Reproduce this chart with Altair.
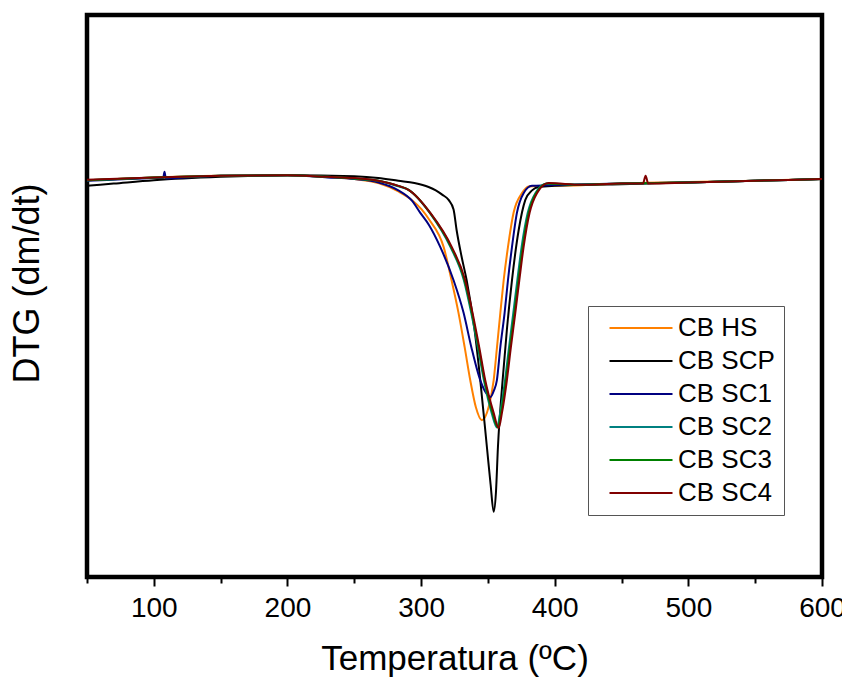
import altair as alt
import pandas as pd

series = ["CB HS", "CB SCP", "CB SC1", "CB SC2", "CB SC3", "CB SC4"]
colors = ["#FF8000", "#000000", "#000080", "#008080", "#008000", "#800000"]

hs_t = [50, 80, 100, 150, 200, 230, 250, 268, 283, 293, 300.4, 306, 316.9, 322.8, 328, 332.6, 336.8, 341, 345.5, 350.5, 354.3, 356.8, 359.3, 361.8, 365, 369.2, 375.5, 380.5, 393, 420, 450, 500, 550, 600]
hs_y = [70.6, 70.9, 71.1, 71.4, 71.5, 71.2, 70.8, 70.1, 68.6, 67.1, 65.4, 63.6, 58.7, 52.8, 47.0, 40.9, 35.0, 30.2, 27.9, 30.2, 35.0, 40.9, 47.0, 52.8, 58.7, 64.8, 68.3, 69.5, 69.6, 69.7, 70.0, 70.3, 70.5, 70.8]

scp_t = [50, 70, 100, 150, 200, 250, 268, 283, 295, 305.6, 311, 316, 320.6, 324.3, 326.6, 330.4, 334.1, 340, 344.3, 349.3, 352, 354.3, 356, 357.5, 361, 364.2, 368, 373, 378, 383, 388, 400, 450, 500, 550, 600]
scp_y = [69.6, 70.0, 70.6, 71.2, 71.5, 71.3, 71.0, 70.5, 70.1, 69.4, 68.8, 68.0, 67.1, 65.4, 61.7, 56.9, 52.8, 44.0, 35.0, 23.0, 16.5, 11.6, 15.0, 23.1, 35.0, 44.0, 52.8, 61.7, 67.1, 68.8, 69.4, 69.6, 69.9, 70.2, 70.5, 70.8]

sc1_t = [50, 80, 100, 107, 108, 109, 150, 200, 230, 250, 268, 283, 293, 299.4, 306, 314.4, 324.3, 331.8, 337.6, 344.3, 348.5, 351.8, 354.5, 356.7, 359.3, 362.5, 365, 368, 371.7, 376.7, 383, 395, 450, 500, 550, 600]
sc1_y = [70.5, 70.8, 71.0, 71.0, 72.1, 70.9, 71.4, 71.5, 71.1, 70.8, 70.2, 68.8, 67.0, 64.8, 62.6, 58.7, 52.8, 47.0, 40.9, 35.0, 32.8, 32.0, 33.2, 35.0, 40.9, 47.0, 52.8, 58.7, 64.8, 68.3, 69.6, 69.7, 70.0, 70.2, 70.5, 70.8]

sc2_t = [50, 100, 150, 200, 230, 250, 268, 283, 290.6, 306.5, 322, 332, 337.5, 342.5, 347, 352.8, 356.8, 359.2, 362.8, 365.8, 369, 372, 375.2, 379.8, 385.5, 394, 420, 450, 500, 550, 600]
sc2_y = [70.6, 71.1, 71.4, 71.5, 71.2, 70.9, 70.5, 69.5, 68.9, 64.8, 58.7, 52.8, 47.0, 40.9, 35.0, 29.2, 26.6, 29.2, 35.0, 40.9, 47.0, 52.8, 58.7, 64.8, 68.3, 70.0, 69.8, 70.0, 70.2, 70.5, 70.8]

sc3_t = [50, 100, 150, 200, 230, 250, 268, 283, 290.6, 306.7, 322.5, 332.5, 338, 343, 347.5, 353.5, 357.5, 359.8, 363.5, 366.5, 369.8, 372.8, 376, 380.5, 386, 394.5, 420, 450, 500, 550, 600]
sc3_y = [70.6, 71.1, 71.4, 71.5, 71.2, 70.9, 70.5, 69.6, 68.9, 64.8, 58.7, 52.8, 47.0, 40.9, 35.0, 29.2, 26.6, 29.2, 35.0, 40.9, 47.0, 52.8, 58.7, 64.8, 68.3, 70.0, 69.8, 70.0, 70.2, 70.5, 70.8]

sc4_t = [50, 100, 150, 200, 230, 250, 268, 283, 290.6, 306.9, 323, 333, 338.5, 343.5, 348, 354.3, 358, 360.5, 364.2, 367.2, 370.5, 373.5, 376.7, 381.2, 386.7, 395.4, 420, 450, 466, 468, 470, 500, 550, 600]
sc4_y = [70.7, 71.1, 71.4, 71.5, 71.2, 71.0, 70.5, 69.6, 68.9, 64.8, 58.7, 52.8, 47.0, 40.9, 35.0, 29.2, 26.5, 29.2, 35.0, 40.9, 47.0, 52.8, 58.7, 64.8, 68.3, 70.1, 69.8, 70.0, 70.0, 71.4, 70.0, 70.2, 70.5, 70.8]

all_t = [hs_t, scp_t, sc1_t, sc2_t, sc3_t, sc4_t]
all_y = [hs_y, scp_y, sc1_y, sc2_y, sc3_y, sc4_y]

rows = []
for name, ts, ys in zip(series, all_t, all_y):
    for i, (t, y) in enumerate(zip(ts, ys)):
        rows.append({"series": name, "T": t, "DTG": y, "i": i})
df = pd.DataFrame(rows)

FONT = "Liberation Sans"

chart = alt.Chart(df).mark_line(strokeWidth=2, clip=True, interpolate="monotone").encode(
    x=alt.X("T:Q", scale=alt.Scale(domain=[50, 600], nice=False, zero=False),
            axis=alt.Axis(title="Temperatura (ºC)", values=[50, 100, 150, 200, 250, 300, 350, 400, 450, 500, 550, 600],
                          labelExpr="datum.value % 100 === 0 ? datum.label : ''",
                          tickSize={"condition": {"test": "datum.value % 100 === 0", "value": 9}, "value": 6},
                          tickWidth=2, tickColor="black", domain=False, grid=False,
                          labelFont=FONT, labelFontSize=28, labelColor="black", labelPadding=8,
                          titleFont=FONT, titleFontSize=35, titleFontWeight="normal", titleColor="black",
                          titlePadding=19, labelFlush=False)),
    y=alt.Y("DTG:Q", scale=alt.Scale(domain=[0, 100], nice=False, zero=False),
            axis=alt.Axis(title="DTG (dm/dt)", labels=False, ticks=False, domain=False, grid=False,
                          titleFont=FONT, titleFontSize=36, titleFontWeight="normal", titleColor="black",
                          titlePadding=41, titleY=268)),
    color=alt.Color("series:N", scale=alt.Scale(domain=series, range=colors),
                    legend=alt.Legend(title=None, orient="none", legendX=501, legendY=291,
                                      symbolType="M-3,0H3", symbolSize=441, symbolStrokeWidth=2,
                                      labelFont=FONT, labelFontSize=26, labelColor="black",
                                      labelOffset=24, symbolOffset=31, padding=9, rowPadding=7,
                                      strokeColor="#555555", fillColor="white")),
    order=alt.Order("i:Q"),
).properties(
    width=735, height=562,
    autosize=alt.AutoSizeParams(type="none"),
    padding={"left": 79, "top": 7, "right": 20, "bottom": 101},
).configure_view(stroke="black", strokeWidth=4.5)

chart.save("out.html", embed_options={"renderer": "svg", "actions": False})
